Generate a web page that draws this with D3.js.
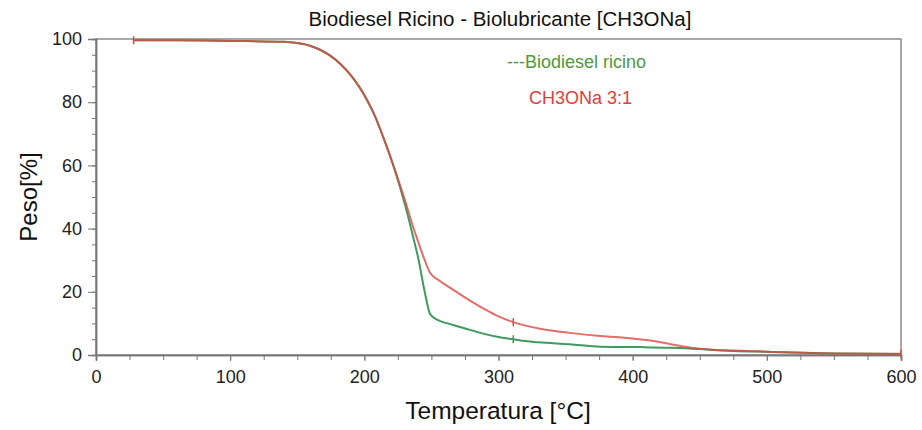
<!DOCTYPE html>
<html>
<head>
<meta charset="utf-8">
<script src="https://d3js.org/d3.v7.min.js"></script>
<style>
  * { margin: 0; padding: 0; }
  body { background: #fff; }
  text { font-family: 'Liberation Sans', Arial, sans-serif; }
</style>
</head>
<body>
<div id="chart"></div>
<script>
// temperature (°C) and weight (%)
const temps = [28, 60, 100, 140, 150, 160, 167, 175, 182, 190, 196, 202, 208, 214, 220, 226, 231, 236, 240, 245, 249, 255, 262, 270, 280, 290, 300, 311, 320, 330, 353, 376, 390, 405, 413, 425, 435, 445, 460, 475, 500, 550, 600];
const biodiesel = [99.6, 99.6, 99.4, 99.1, 98.7, 97.8, 96.6, 94.6, 92.2, 88.5, 85, 80.7, 75.5, 69, 62, 54, 46.5, 38, 31, 20, 13, 11, 10, 9, 7.8, 6.6, 5.7, 5, 4.4, 4, 3.4, 2.6, 2.55, 2.5, 2.4, 2.3, 2.2, 2.0, 1.6, 1.3, 1.0, 0.5, 0.3];
const ch3ona = [99.6, 99.6, 99.4, 99.1, 98.7, 97.8, 96.6, 94.6, 92.2, 88.5, 85, 80.7, 75.5, 69, 62, 54.5, 48, 41, 36, 30, 26, 23.8, 21.8, 19.6, 16.9, 14.4, 12.2, 10.4, 9.3, 8.4, 7, 6, 5.6, 5, 4.6, 3.7, 2.9, 2.2, 1.7, 1.4, 1.05, 0.5, 0.4];
const redMarks = [28, 311, 600];
const greenMarks = [311];
const xTicks = [0, 100, 200, 300, 400, 500, 600];
const yTicks = [0, 20, 40, 60, 80, 100];

const W = 922, H = 430;
const m = {left: 96, right: 21, top: 39, bottom: 75};
const pw = W - m.left - m.right, ph = H - m.top - m.bottom;

const svg = d3.select("#chart").append("svg").attr("width", W).attr("height", H);
const g = svg.append("g").attr("transform", `translate(${m.left},${m.top})`);

const x = d3.scaleLinear().domain([0, 600]).range([0, pw]);
const y = d3.scaleLinear().domain([0, 100]).range([ph, 0]);

// frame
g.append("rect").attr("width", pw).attr("height", ph)
  .attr("fill", "none").attr("stroke", "#8c8c8c").attr("stroke-width", 1.5);

// minor ticks
const xMinor = d3.axisBottom(x).tickValues(d3.range(0, 601, 25)).tickSize(5).tickFormat("");
const yMinor = d3.axisLeft(y).tickValues(d3.range(0, 101, 5)).tickSize(4).tickFormat("");
g.append("g").attr("transform", `translate(0,${ph})`).call(xMinor);
g.append("g").call(yMinor);

const xAxis = d3.axisBottom(x).tickValues(xTicks).tickSize(6).tickPadding(9);
const yAxis = d3.axisLeft(y).tickValues(yTicks).tickSize(8).tickPadding(6);
g.append("g").attr("class", "ax").attr("transform", `translate(0,${ph})`).call(xAxis);
g.append("g").attr("class", "ax").call(yAxis);

g.selectAll(".domain").attr("stroke", "#777").attr("stroke-width", 1.5);
g.selectAll(".tick line").attr("stroke", "#777");
g.selectAll(".ax text").attr("font-size", 18).attr("fill", "#222");

const line = vals => d3.line().x((d, i) => x(temps[i])).y((d, i) => y(vals[i]))
  .curve(d3.curveMonotoneX)(vals);

g.append("path").attr("d", line(biodiesel)).attr("fill", "none")
  .attr("stroke", "#3f9a5e").attr("stroke-width", 2);
g.append("path").attr("d", line(ch3ona)).attr("fill", "none")
  .attr("stroke", "#d94a44").attr("stroke-width", 2).attr("stroke-opacity", 0.8);

function marks(list, vals, color) {
  list.forEach(t => {
    const v = vals[temps.indexOf(t)];
    const cx = x(t), cy = y(v);
    g.append("line").attr("x1", cx).attr("x2", cx).attr("y1", cy - 4).attr("y2", cy + 4)
      .attr("stroke", color).attr("stroke-width", 1.5);
  });
}
marks(greenMarks, biodiesel, "#3f9a5e");
marks(redMarks, ch3ona, "#d94a44");

// legend
svg.append("text").attr("x", 507).attr("y", 68).attr("font-size", 18)
  .attr("fill", "#4f9a3c").text("---Biodiesel ricino");
svg.append("text").attr("x", 529).attr("y", 104).attr("font-size", 18)
  .attr("fill", "#e0403c").text("CH3ONa 3:1");

// title and axis labels
svg.append("text").attr("x", 500).attr("y", 26).attr("text-anchor", "middle")
  .attr("font-size", 20.5).attr("fill", "#111").text("Biodiesel Ricino - Biolubricante [CH3ONa]");
svg.append("text").attr("x", 498).attr("y", 419).attr("text-anchor", "middle")
  .attr("font-size", 24.5).attr("fill", "#111").text("Temperatura [°C]");
svg.append("text").attr("transform", `translate(37,${m.top + ph / 2}) rotate(-90)`)
  .attr("text-anchor", "middle").attr("font-size", 24).attr("fill", "#111").text("Peso[%]");
</script>
</body>
</html>
